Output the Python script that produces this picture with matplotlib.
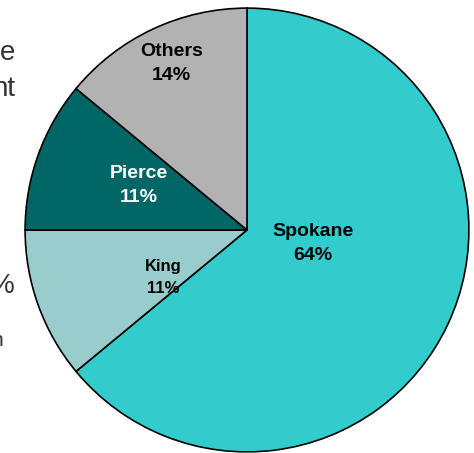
import matplotlib
matplotlib.use('Agg')
import matplotlib.pyplot as plt

# Pie data
counties = ['Spokane', 'King', 'Pierce', 'Others']
shares = [64, 11, 11, 14]
colors = ['#33CCCC', '#99CCCC', '#006666', '#B2B2B2']
label_colors = ['black', 'black', 'white', 'black']
label_sizes = [14, 12, 14, 14]
# label positions inside the pie (in radius units)
label_pos = [(0.296, -0.06), (-0.377, -0.215), (-0.489, 0.202), (-0.341, 0.75)]

# cut-off text fragments on the left edge
fragments = ['e', 'nt', '%', 'n']

plt.rcParams['font.family'] = ['Liberation Sans', 'DejaVu Sans']

fig = plt.figure(figsize=(4.74, 4.53), dpi=100)
ax = fig.add_axes([24 / 474, 0, 446 / 474, 446 / 453])

ax.pie(shares, colors=colors, startangle=90, counterclock=False, radius=1,
       wedgeprops=dict(edgecolor='black', linewidth=1.2))
ax.set_xlim(-1.005, 1.005)
ax.set_ylim(-1.005, 1.005)
ax.set_aspect('equal')
ax.axis('off')

for name, pct, (x, y), c, fs in zip(counties, shares, label_pos, label_colors, label_sizes):
    ax.text(x, y, f'{name}\n{pct}%', ha='center', va='center', fontsize=fs,
            fontweight='bold', color=c, linespacing=1.55)

# fragments of text that run off the left side of the slide
frag_y = [60, 96, 293, 346]
frag_x = [15, 15, 15, 3]
frag_size = [20, 20, 20, 15]
for t, fx, fy, fs in zip(fragments, frag_x, frag_y, frag_size):
    fig.text(fx / 474, 1 - fy / 453, t, ha='right', va='baseline', fontsize=fs,
             color='#333333')

fig.savefig('out.png', dpi=100)
